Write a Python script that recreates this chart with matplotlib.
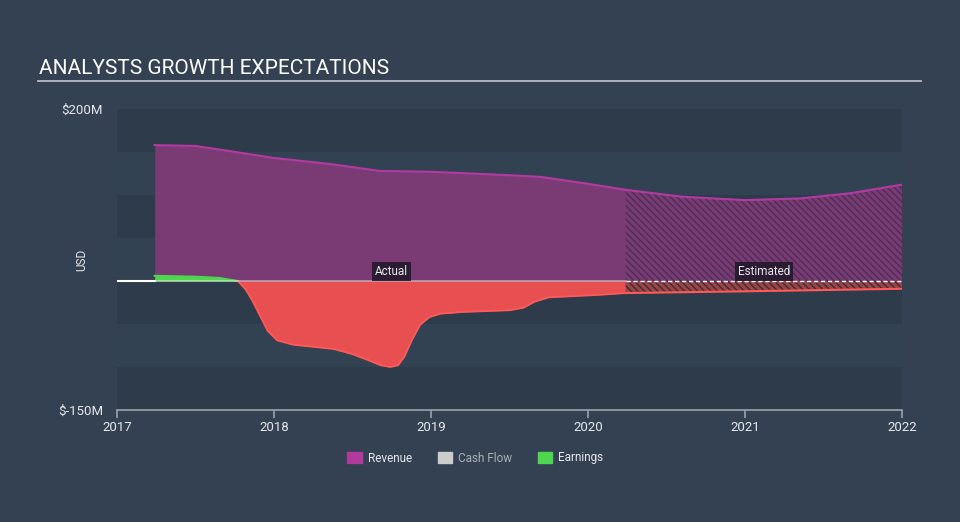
"""Analysts growth expectations chart: revenue and earnings, actual vs estimated."""

import matplotlib
matplotlib.use("Agg")
import matplotlib.pyplot as plt
from matplotlib.patches import Patch
from matplotlib.lines import Line2D

plt.rcParams["font.family"] = ["Roboto", "DejaVu Sans"]
plt.rcParams["hatch.linewidth"] = 1.0

# Data (USD millions)
rev_years = [2017.24, 2017.5, 2017.72, 2018.0, 2018.36, 2018.67, 2019.0, 2019.5, 2019.7, 2020.0, 2020.24]
rev_vals = [158, 157, 151, 143, 136, 128, 127, 123, 121, 113, 106]
rev_est_years = [2020.24, 2020.6, 2021.0, 2021.35, 2021.67, 2022.0]
rev_est_vals = [106, 98, 94, 96, 102, 112]

earn_years = [2017.24, 2017.5, 2017.65, 2017.77, 2017.82, 2017.86, 2017.91, 2017.96, 2018.02,
              2018.12, 2018.38, 2018.5, 2018.6, 2018.68, 2018.74, 2018.79, 2018.83, 2018.88,
              2018.93, 2018.99, 2019.06, 2019.2, 2019.5, 2019.59, 2019.66, 2019.75, 2020.08, 2020.24]
earn_vals = [6, 5, 3.5, 0, -10, -22, -40, -58, -69,
             -74, -79, -85, -92, -98, -100, -98, -88, -68,
             -51, -42, -38, -36, -34, -31, -24, -19, -16, -14]
earn_est_years = [2020.24, 2021.0, 2022.0]
earn_est_vals = [-14, -12, -9]

year_ticks = [2017, 2018, 2019, 2020, 2021, 2022]
y_ticks = [200, -150]
y_labels = ["$200M", "$-150M"]

BG = "#334152"
BAND_DARK = "#2e3b4b"
BAND_LIGHT = "#334253"
REV_FILL = "#7a3a74"
REV_LINE = "#b43aa3"
RED_FILL = "#e84f50"
RED_LINE = "#ff5a5a"
GREEN = "#4fd64f"
TEXT = "#e6e8ea"

fig = plt.figure(figsize=(9.6, 5.22), dpi=100, facecolor=BG)
ax = fig.add_axes([117 / 960, 112 / 522, 785 / 960, 301 / 522])
ax.set_facecolor(BG)
ax.set_xlim(2017, 2022)
ax.set_ylim(-150, 200)

# alternating background bands
for i, lo in enumerate(range(150, -200, -50)):
    ax.axhspan(lo, lo + 50, color=BAND_DARK if i % 2 == 0 else BAND_LIGHT, lw=0, zorder=0)

# revenue actual
ax.fill_between(rev_years, 0, rev_vals, color=REV_FILL, lw=0, zorder=2)
ax.plot(rev_years, rev_vals, color=REV_LINE, lw=1.5, zorder=4)
# revenue estimated (hatched)
ax.fill_between(rev_est_years, 0, rev_est_vals, facecolor=REV_FILL, edgecolor="#4a2f55",
                hatch="\\\\\\\\\\", lw=0, zorder=2)
ax.plot(rev_est_years, rev_est_vals, color=REV_LINE, lw=1.5, zorder=4)

# earnings actual
ax.fill_between(earn_years, 0, earn_vals, where=[v >= 0 for v in earn_vals],
                color=GREEN, lw=0, interpolate=True, zorder=3)
ax.fill_between(earn_years, 0, earn_vals, where=[v <= 0 for v in earn_vals],
                color=RED_FILL, lw=0, interpolate=True, zorder=3)
pos = [i for i, v in enumerate(earn_vals) if v >= 0]
ax.plot([earn_years[i] for i in pos], [earn_vals[i] for i in pos], color=GREEN, lw=1.5, zorder=4)
neg = [i for i, v in enumerate(earn_vals) if v <= 0]
ax.plot([earn_years[i] for i in neg], [earn_vals[i] for i in neg], color=RED_LINE, lw=1.3, zorder=4)
# earnings estimated (hatched)
ax.fill_between(earn_est_years, 0, earn_est_vals, facecolor="#9a4446", edgecolor="#3b2c36",
                hatch="\\\\\\\\\\", lw=0, zorder=3)
ax.plot(earn_est_years, earn_est_vals, color=RED_LINE, lw=1.5, zorder=4)

# zero line
ax.plot([2017, rev_years[0]], [0, 0], color="white", lw=1.5, zorder=5)
ax.plot([rev_years[0], rev_years[-1]], [0, 0], color="white", lw=1.2, alpha=0.5, zorder=5)
ax.plot([rev_est_years[0], 2022], [0, 0], color="white", lw=1.0, ls=(0, (3, 2)), zorder=5)

# Actual / Estimated markers
box = dict(boxstyle="square,pad=0.25", facecolor="#24192c", edgecolor="none", alpha=0.9)
ax.text(2018.75, 11, "Actual", color=TEXT, fontsize=8.5, ha="center", va="center", bbox=box, zorder=6)
ax.text(2021.12, 11, "Estimated", color=TEXT, fontsize=8.5, ha="center", va="center", bbox=box, zorder=6)

# axes styling
for side in ["top", "right", "left"]:
    ax.spines[side].set_visible(False)
ax.spines["bottom"].set_color("#9aa3ad")
ax.spines["bottom"].set_linewidth(1.2)
ax.set_xticks(year_ticks)
ax.set_xticklabels([str(y) for y in year_ticks])
ax.tick_params(axis="x", colors="#9aa3ad", labelcolor=TEXT, labelsize=9.5, length=6, width=1.2, pad=2)
ax.set_yticks(y_ticks)
ax.set_yticklabels(y_labels)
ax.tick_params(axis="y", length=0, labelcolor=TEXT, labelsize=9.5, pad=10)

fig.text(82 / 960, 1 - 260 / 522, "USD", rotation=90, color=TEXT, fontsize=8.5, ha="center", va="center")

# title with underline
fig.text(39 / 960, 1 - 69 / 522, "ANALYSTS GROWTH EXPECTATIONS", color="white", fontsize=15, ha="left", va="center")
fig.add_artist(Line2D([38 / 960, 921 / 960], [1 - 81 / 522, 1 - 81 / 522], color="#b8bec6", lw=1.3))

# legend
handles = [Patch(color="#b03a9e", label="Revenue"),
           Patch(color="#cccccc", label="Cash Flow"),
           Patch(color=GREEN, label="Earnings")]
leg = fig.legend(handles=handles, loc="center", bbox_to_anchor=(0.495, 1 - 458 / 522), ncol=3,
                 frameon=False, fontsize=8.5, handlelength=1.2, handleheight=1.0,
                 columnspacing=2.2, handletextpad=0.5)
for txt, col in zip(leg.get_texts(), [TEXT, "#aab0b8", TEXT]):
    txt.set_color(col)

fig.savefig("out.png", dpi=100, facecolor=BG)
